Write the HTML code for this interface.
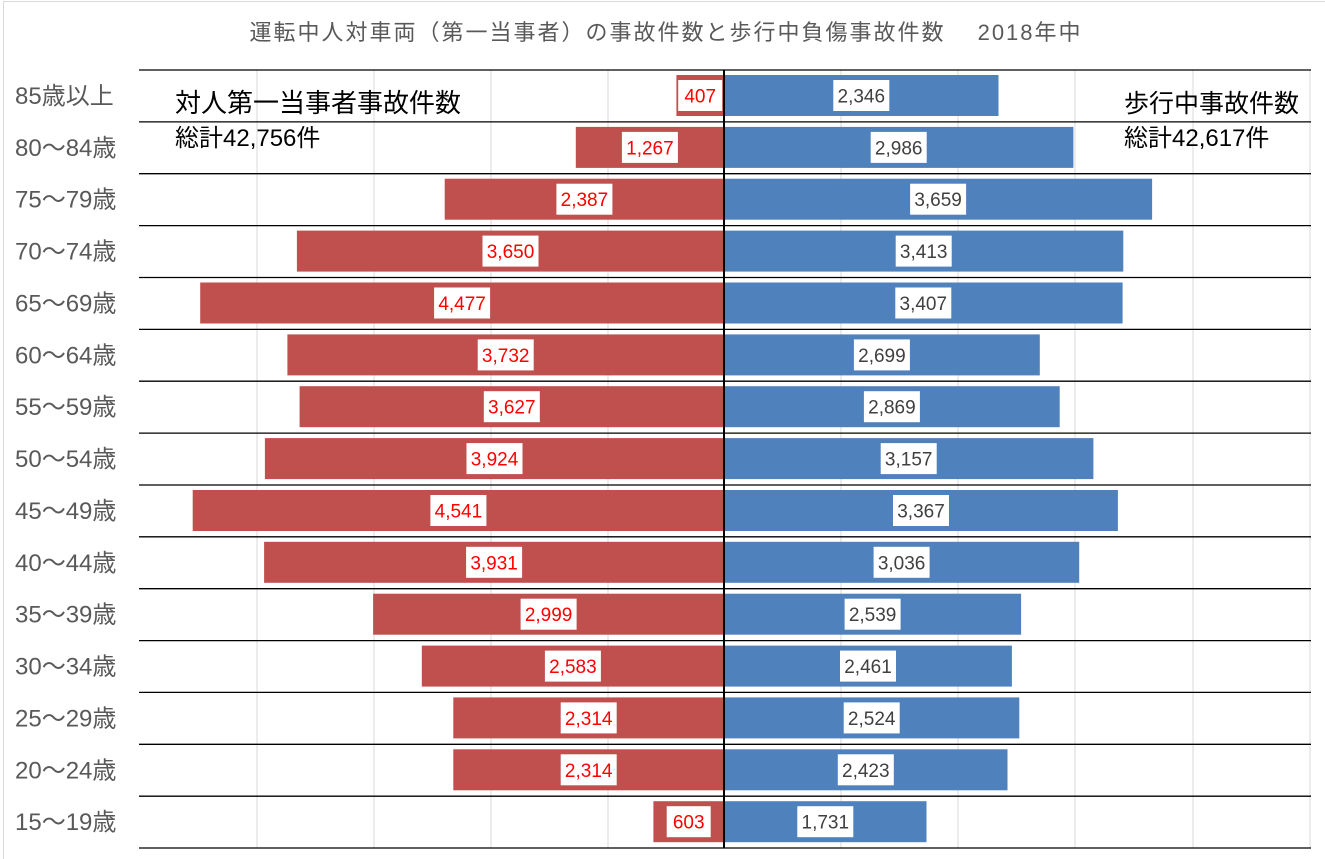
<!DOCTYPE html>
<html><head><meta charset="utf-8"><style>
html,body{margin:0;padding:0;background:#fff}
svg{display:block}
text{font-family:"Liberation Sans","Noto Sans CJK JP",sans-serif}
.lr{fill:#ff0000;font-size:19px;text-anchor:middle}
.rr{fill:#404040;font-size:19px;text-anchor:middle}
.ax{fill:#595959;font-size:24px}
</style></head><body>
<svg width="1325" height="859" viewBox="0 0 1325 859" xmlns="http://www.w3.org/2000/svg">
<rect x="3.5" y="1.5" width="1330" height="870" fill="#fff" stroke="#d9d9d9"/>
<text x="666" y="40" text-anchor="middle" font-size="22" letter-spacing="2" fill="#595959">運転中人対車両（第一当事者）の事故件数と歩行中負傷事故件数　 2018年中</text>
<g stroke="#d9d9d9" stroke-width="1">
<line x1="257" y1="70" x2="257" y2="848"/><line x1="374" y1="70" x2="374" y2="848"/>
<line x1="491" y1="70" x2="491" y2="848"/><line x1="608" y1="70" x2="608" y2="848"/>
<line x1="841" y1="70" x2="841" y2="848"/><line x1="958" y1="70" x2="958" y2="848"/>
<line x1="1075" y1="70" x2="1075" y2="848"/><line x1="1193" y1="70" x2="1193" y2="848"/>
<line x1="1310" y1="70" x2="1310" y2="848"/>
</g>
<g stroke="#000" stroke-width="1.3">
<line x1="139" y1="70" x2="1311" y2="70"/><line x1="139" y1="121.9" x2="1311" y2="121.9"/>
<line x1="139" y1="173.7" x2="1311" y2="173.7"/><line x1="139" y1="225.6" x2="1311" y2="225.6"/>
<line x1="139" y1="277.5" x2="1311" y2="277.5"/><line x1="139" y1="329.4" x2="1311" y2="329.4"/>
<line x1="139" y1="381.2" x2="1311" y2="381.2"/><line x1="139" y1="433.1" x2="1311" y2="433.1"/>
<line x1="139" y1="485" x2="1311" y2="485"/><line x1="139" y1="536.8" x2="1311" y2="536.8"/>
<line x1="139" y1="588.7" x2="1311" y2="588.7"/><line x1="139" y1="640.6" x2="1311" y2="640.6"/>
<line x1="139" y1="692.4" x2="1311" y2="692.4"/><line x1="139" y1="744.3" x2="1311" y2="744.3"/>
<line x1="139" y1="796.2" x2="1311" y2="796.2"/><line x1="139" y1="848" x2="1311" y2="848"/>
</g>
<text x="175" y="112" font-size="26" fill="#000">対人第一当事者事故件数</text>
<text x="175" y="146" font-size="24" fill="#000">総計42,756件</text>
<text x="1124" y="112" font-size="25" fill="#000">歩行中事故件数</text>
<text x="1124" y="146" font-size="24" fill="#000">総計42,617件</text>

<g transform="translate(0,70)"><text class="ax" x="15" y="34">85歳以上</text>
<rect x="676.4" y="5" width="47.6" height="41" fill="#c0504d"/><rect x="724" y="5" width="274.5" height="41" fill="#4f81bd"/>
<rect x="678.2" y="10" width="44" height="31" fill="#fff"/><text class="lr" x="700.2" y="32.5">407</text>
<rect x="833.3" y="10" width="56" height="31" fill="#fff"/><text class="rr" x="861.3" y="32.5">2,346</text></g>

<g transform="translate(0,121.9)"><text class="ax" x="15" y="34">80〜84歳</text>
<rect x="575.8" y="5" width="148.2" height="41" fill="#c0504d"/><rect x="724" y="5" width="349.4" height="41" fill="#4f81bd"/>
<rect x="621.9" y="10" width="56" height="31" fill="#fff"/><text class="lr" x="649.9" y="32.5">1,267</text>
<rect x="870.7" y="10" width="56" height="31" fill="#fff"/><text class="rr" x="898.7" y="32.5">2,986</text></g>

<g transform="translate(0,173.7)"><text class="ax" x="15" y="34">75〜79歳</text>
<rect x="444.7" y="5" width="279.3" height="41" fill="#c0504d"/><rect x="724" y="5" width="428.1" height="41" fill="#4f81bd"/>
<rect x="556.4" y="10" width="56" height="31" fill="#fff"/><text class="lr" x="584.4" y="32.5">2,387</text>
<rect x="910.1" y="10" width="56" height="31" fill="#fff"/><text class="rr" x="938.1" y="32.5">3,659</text></g>

<g transform="translate(0,225.6)"><text class="ax" x="15" y="34">70〜74歳</text>
<rect x="296.9" y="5" width="427.1" height="41" fill="#c0504d"/><rect x="724" y="5" width="399.3" height="41" fill="#4f81bd"/>
<rect x="482.5" y="10" width="56" height="31" fill="#fff"/><text class="lr" x="510.5" y="32.5">3,650</text>
<rect x="895.7" y="10" width="56" height="31" fill="#fff"/><text class="rr" x="923.7" y="32.5">3,413</text></g>

<g transform="translate(0,277.5)"><text class="ax" x="15" y="34">65〜69歳</text>
<rect x="200.2" y="5" width="523.8" height="41" fill="#c0504d"/><rect x="724" y="5" width="398.6" height="41" fill="#4f81bd"/>
<rect x="434.1" y="10" width="56" height="31" fill="#fff"/><text class="lr" x="462.1" y="32.5">4,477</text>
<rect x="895.3" y="10" width="56" height="31" fill="#fff"/><text class="rr" x="923.3" y="32.5">3,407</text></g>

<g transform="translate(0,329.4)"><text class="ax" x="15" y="34">60〜64歳</text>
<rect x="287.4" y="5" width="436.6" height="41" fill="#c0504d"/><rect x="724" y="5" width="315.8" height="41" fill="#4f81bd"/>
<rect x="477.7" y="10" width="56" height="31" fill="#fff"/><text class="lr" x="505.7" y="32.5">3,732</text>
<rect x="853.9" y="10" width="56" height="31" fill="#fff"/><text class="rr" x="881.9" y="32.5">2,699</text></g>

<g transform="translate(0,381.2)"><text class="ax" x="15" y="34">55〜59歳</text>
<rect x="299.6" y="5" width="424.4" height="41" fill="#c0504d"/><rect x="724" y="5" width="335.7" height="41" fill="#4f81bd"/>
<rect x="483.8" y="10" width="56" height="31" fill="#fff"/><text class="lr" x="511.8" y="32.5">3,627</text>
<rect x="863.9" y="10" width="56" height="31" fill="#fff"/><text class="rr" x="891.9" y="32.5">2,869</text></g>

<g transform="translate(0,433.1)"><text class="ax" x="15" y="34">50〜54歳</text>
<rect x="264.9" y="5" width="459.1" height="41" fill="#c0504d"/><rect x="724" y="5" width="369.4" height="41" fill="#4f81bd"/>
<rect x="466.5" y="10" width="56" height="31" fill="#fff"/><text class="lr" x="494.5" y="32.5">3,924</text>
<rect x="880.7" y="10" width="56" height="31" fill="#fff"/><text class="rr" x="908.7" y="32.5">3,157</text></g>

<g transform="translate(0,485)"><text class="ax" x="15" y="34">45〜49歳</text>
<rect x="192.7" y="5" width="531.3" height="41" fill="#c0504d"/><rect x="724" y="5" width="393.9" height="41" fill="#4f81bd"/>
<rect x="430.4" y="10" width="56" height="31" fill="#fff"/><text class="lr" x="458.4" y="32.5">4,541</text>
<rect x="893" y="10" width="56" height="31" fill="#fff"/><text class="rr" x="921" y="32.5">3,367</text></g>

<g transform="translate(0,536.8)"><text class="ax" x="15" y="34">40〜44歳</text>
<rect x="264.1" y="5" width="459.9" height="41" fill="#c0504d"/><rect x="724" y="5" width="355.2" height="41" fill="#4f81bd"/>
<rect x="466.1" y="10" width="56" height="31" fill="#fff"/><text class="lr" x="494.1" y="32.5">3,931</text>
<rect x="873.6" y="10" width="56" height="31" fill="#fff"/><text class="rr" x="901.6" y="32.5">3,036</text></g>

<g transform="translate(0,588.7)"><text class="ax" x="15" y="34">35〜39歳</text>
<rect x="373.1" y="5" width="350.9" height="41" fill="#c0504d"/><rect x="724" y="5" width="297.1" height="41" fill="#4f81bd"/>
<rect x="520.6" y="10" width="56" height="31" fill="#fff"/><text class="lr" x="548.6" y="32.5">2,999</text>
<rect x="844.6" y="10" width="56" height="31" fill="#fff"/><text class="rr" x="872.6" y="32.5">2,539</text></g>

<g transform="translate(0,640.6)"><text class="ax" x="15" y="34">30〜34歳</text>
<rect x="421.8" y="5" width="302.2" height="41" fill="#c0504d"/><rect x="724" y="5" width="287.9" height="41" fill="#4f81bd"/>
<rect x="544.9" y="10" width="56" height="31" fill="#fff"/><text class="lr" x="572.9" y="32.5">2,583</text>
<rect x="840" y="10" width="56" height="31" fill="#fff"/><text class="rr" x="868" y="32.5">2,461</text></g>

<g transform="translate(0,692.4)"><text class="ax" x="15" y="34">25〜29歳</text>
<rect x="453.3" y="5" width="270.7" height="41" fill="#c0504d"/><rect x="724" y="5" width="295.3" height="41" fill="#4f81bd"/>
<rect x="560.7" y="10" width="56" height="31" fill="#fff"/><text class="lr" x="588.7" y="32.5">2,314</text>
<rect x="843.7" y="10" width="56" height="31" fill="#fff"/><text class="rr" x="871.7" y="32.5">2,524</text></g>

<g transform="translate(0,744.3)"><text class="ax" x="15" y="34">20〜24歳</text>
<rect x="453.3" y="5" width="270.7" height="41" fill="#c0504d"/><rect x="724" y="5" width="283.5" height="41" fill="#4f81bd"/>
<rect x="560.7" y="10" width="56" height="31" fill="#fff"/><text class="lr" x="588.7" y="32.5">2,314</text>
<rect x="837.8" y="10" width="56" height="31" fill="#fff"/><text class="rr" x="865.8" y="32.5">2,423</text></g>

<g transform="translate(0,796.2)"><text class="ax" x="15" y="34">15〜19歳</text>
<rect x="653.4" y="5" width="70.6" height="41" fill="#c0504d"/><rect x="724" y="5" width="202.5" height="41" fill="#4f81bd"/>
<rect x="666.7" y="10" width="44" height="31" fill="#fff"/><text class="lr" x="688.7" y="32.5">603</text>
<rect x="797.3" y="10" width="56" height="31" fill="#fff"/><text class="rr" x="825.3" y="32.5">1,731</text></g>

<line x1="724" y1="70" x2="724" y2="848" stroke="#000" stroke-width="2"/>
</svg>
</body></html>
